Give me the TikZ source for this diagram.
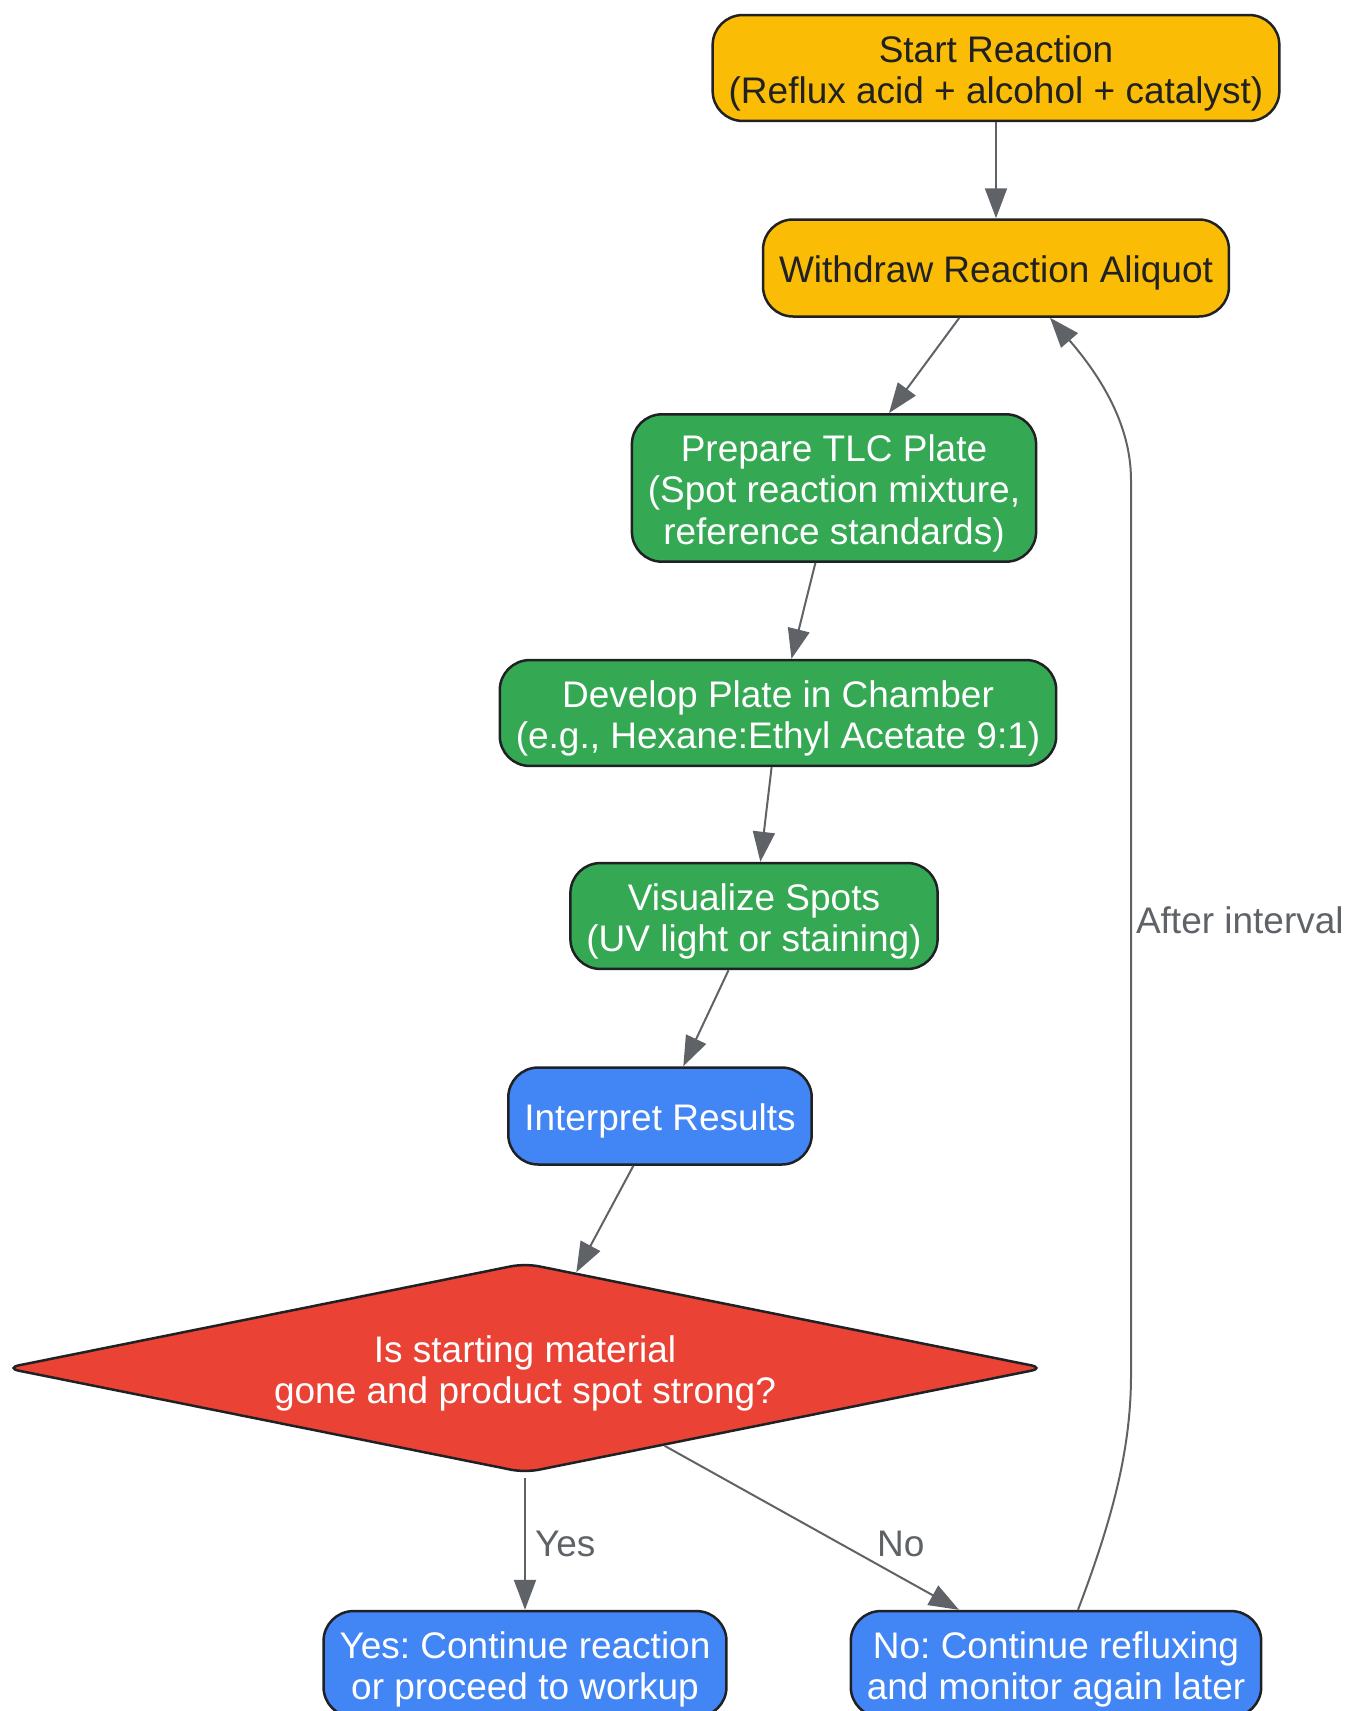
\documentclass[tikz,border=0pt]{standalone}
\usepackage{fontspec}
\setmainfont{Liberation Sans}
\usepackage{tikz}
\usetikzlibrary{arrows.meta,shapes.geometric,calc}
\definecolor{gyellow}{HTML}{FBBC05}
\definecolor{ggreen}{HTML}{34A853}
\definecolor{gblue}{HTML}{4285F4}
\definecolor{gred}{HTML}{EA4335}
\definecolor{gink}{HTML}{202124}
\definecolor{ggray}{HTML}{5F6368}
\frenchspacing
\newcommand\tp{\rule{0pt}{37.5pt}}

\begin{document}
\begin{tikzpicture}[x=1pt,y=-1pt,
  box/.style={draw=gink,line width=2.5pt,rounded corners=30pt,align=center,
    inner xsep=16pt,inner ysep=9.6pt,minimum height=97pt,
    font=\fontsize{37}{41.5}\selectfont},
  yellowbox/.style={box,fill=gyellow,text=gink},
  greenbox/.style={box,fill=ggreen,text=white},
  bluebox/.style={box,fill=gblue,text=white},
  decision/.style={diamond,draw=gink,line width=2.5pt,rounded corners=14pt,
    fill=gred,text=white,align=center,aspect=5,inner sep=0pt,
    minimum width=1040pt,minimum height=210pt,font=\fontsize{37}{41.5}\selectfont},
  link/.style={draw=ggray,line width=2pt,-{Triangle[length=30pt,width=22pt]}},
  lbl/.style={text=ggray,inner sep=0pt,font=\fontsize{37}{41.5}\selectfont}]
\useasboundingbox (0,0) rectangle (1348,1711);
\node[yellowbox] (start) at (996,68) {\tp Start Reaction\\(Reflux acid + alcohol + catalyst)};
\node[yellowbox] (withdraw) at (996,268) {\tp Withdraw Reaction Aliquot};
\node[greenbox] (prep) at (834,488) {\tp Prepare TLC Plate\\(Spot reaction mixture,\\reference standards)};
\node[greenbox] (dev) at (778,713) {\tp Develop Plate in Chamber\\(e.g., Hexane:Ethyl Acetate 9:1)};
\node[greenbox] (vis) at (754,916) {\tp Visualize Spots\\(UV light or staining)};
\node[bluebox] (interp) at (660,1116) {\tp Interpret Results};
\node[decision] (dec) at (525,1368) {\tp Is starting material\\gone and product spot strong?};
\node[bluebox] (yes) at (525,1664) {\tp Yes: Continue reaction\\or proceed to workup};
\node[bluebox] (no) at (1056,1664) {\tp No: Continue refluxing\\and monitor again later};

\draw[link] (start) -- (withdraw);
\draw[link] (withdraw) -- (prep);
\draw[link] (prep) -- (dev);
\draw[link] (dev) -- (vis);
\draw[link] (vis) -- (interp);
\draw[link] (interp) -- (dec);
\draw[link] ([yshift=-4pt]dec.south) -- node[lbl,midway,anchor=west,xshift=9pt]{Yes} (yes);
\draw[link] (dec) -- node[lbl,pos=0.6,anchor=west,xshift=35pt]{No} (no);
\draw[link] ([xshift=22pt]no.north) .. controls (1112,1520) and (1131,1450) .. (1131,1375)
  -- node[lbl,pos=0.508,anchor=west,xshift=4pt]{After interval} (1131,480)
  .. controls (1131,420) and (1095,370) .. ([xshift=54pt]withdraw.south);
\end{tikzpicture}
\end{document}
